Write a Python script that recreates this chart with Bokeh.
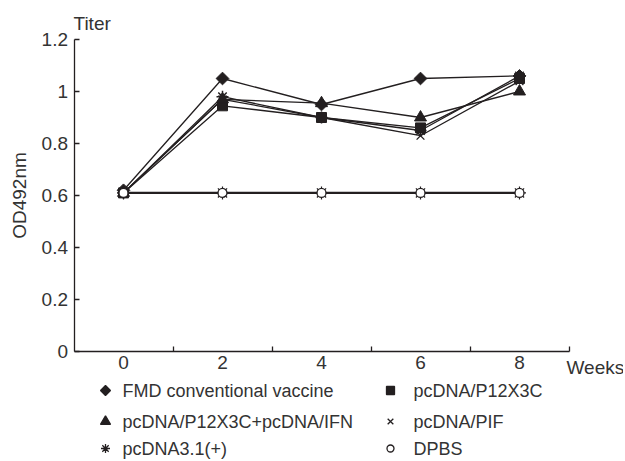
import math
from bokeh.plotting import figure
from bokeh.models import FixedTicker, Range1d
from bokeh.core.properties import value
from bokeh.embed import file_html
from bokeh.resources import INLINE

weeks = [0, 2, 4, 6, 8]
fmd = [0.62, 1.05, 0.95, 1.05, 1.06]
p12x3c = [0.61, 0.945, 0.90, 0.86, 1.05]
p12x3c_ifn = [0.61, 0.97, 0.955, 0.90, 1.00]
pif = [0.61, 0.97, 0.90, 0.83, 1.04]
pcdna31 = [0.61, 0.98, 0.90, 0.85, 1.06]
dpbs = [0.61, 0.61, 0.61, 0.61, 0.61]

x_tick_labels = ["0", "2", "4", "6", "8"]
x_minor = [1, 3, 5, 7, 9]
y_ticks = [0, 0.2, 0.4, 0.6, 0.8, 1.0, 1.2]
y_tick_labels = ["0", "0.2", "0.4", "0.6", "0.8", "1", "1.2"]

series_names = ["FMD conventional vaccine", "pcDNA/P12X3C",
                "pcDNA/P12X3C+pcDNA/IFN", "pcDNA/PIF",
                "pcDNA3.1(+)", "DPBS"]

INK = "#231f20"
TXT = "#333333"
FONT = "Liberation Sans"
DIAMOND_ANGLE = math.pi / 4

# layout geometry (page pixels)
W, H = 623, 459
OX, OY = 0, 0          # canvas offset on page
X0_PX, X_STEP = 123.0, 49.5   # page x of week 0, px per week
Y0_PX, Y_STEP = 351.0, 260.0  # page y of OD 0, px per OD unit


def px2x(px):
    return (px - X0_PX) / X_STEP


def py2y(py):
    return (Y0_PX - py) / Y_STEP


p = figure(width=W, height=H, output_backend="svg", toolbar_location=None,
           x_range=Range1d(px2x(OX), px2x(OX + W)),
           y_range=Range1d(py2y(OY + H), py2y(OY)),
           min_border=0)
p.outline_line_color = None
p.xgrid.visible = False
p.ygrid.visible = False

xa = p.xaxis[0]
xa.fixed_location = 0
xa.bounds = (-1, 9)
xa.ticker = FixedTicker(ticks=weeks, minor_ticks=x_minor)
xa.major_label_overrides = {w: l for w, l in zip(weeks, x_tick_labels)}
xa.major_tick_in = 0
xa.major_tick_out = 0
xa.minor_tick_in = 5
xa.minor_tick_out = 0
xa.minor_tick_line_color = INK
xa.minor_tick_line_width = 1.3
xa.axis_line_color = INK
xa.axis_line_width = 1.3
xa.major_label_standoff = 4
xa.major_label_text_font = FONT
xa.major_label_text_font_size = "19px"
xa.major_label_text_color = TXT

ya = p.yaxis[0]
ya.fixed_location = -1
ya.bounds = (0, 1.2)
ya.ticker = FixedTicker(ticks=y_ticks, minor_ticks=[])
ya.major_label_overrides = {t: l for t, l in zip(y_ticks, y_tick_labels)}
ya.major_tick_in = 5
ya.major_tick_out = 0
ya.major_tick_line_color = INK
ya.major_tick_line_width = 1.3
ya.minor_tick_in = 0
ya.minor_tick_out = 0
ya.axis_line_color = INK
ya.axis_line_width = 1.3
ya.major_label_standoff = 6
ya.major_label_text_font = FONT
ya.major_label_text_font_size = "19px"
ya.major_label_text_color = TXT
ya.axis_label = "OD492nm"
ya.axis_label_text_font = FONT
ya.axis_label_text_font_size = "19px"
ya.axis_label_text_font_style = "normal"
ya.axis_label_text_color = TXT
ya.axis_label_standoff = 9

# lines
p.line(weeks, dpbs, line_color=INK, line_width=2.2)
for ys in [pif, pcdna31, p12x3c, p12x3c_ifn, fmd]:
    p.line(weeks, ys, line_color=INK, line_width=1.3)

# markers
p.scatter(weeks, pif, marker="x", size=11, line_color=INK, line_width=1.3)
p.scatter(weeks, pcdna31, marker="asterisk", size=12, line_color=INK, line_width=1.5)
p.scatter(weeks, p12x3c, marker="square", size=10, fill_color=INK, line_color=INK)
p.scatter(weeks, p12x3c_ifn, marker="triangle", size=12, fill_color=INK, line_color=INK)
p.scatter(weeks, fmd, marker="square", angle=DIAMOND_ANGLE, size=9,
          fill_color=INK, line_color=INK)
p.scatter(weeks, dpbs, marker="asterisk", size=13, line_color=INK, line_width=1.2)
p.scatter(weeks, dpbs, marker="circle", size=9, fill_color="white",
          line_color=INK, line_width=1.3)

# axis titles
p.text(x=[px2x(73)], y=[py2y(23)], text=["Titer"], text_font=value(FONT),
       text_font_size="19px", text_color=TXT, text_baseline="alphabetic",
       text_align="left")
p.text(x=[px2x(566)], y=[py2y(367)], text=["Weeks"], text_font=value(FONT),
       text_font_size="19px", text_color=TXT, text_baseline="alphabetic",
       text_align="left")

# legend (page pixel positions)
marker_px = [105, 390, 105, 390, 105, 390]
text_px = [122, 413, 122, 413, 122, 413]
row_px = [390, 390, 421, 421, 448, 448]
markers = ["square", "square", "triangle", "x", "asterisk", "circle"]
angles = [DIAMOND_ANGLE, 0, 0, 0, 0, 0]
sizes = [7, 8, 10, 8, 9, 7]
fills = [INK, INK, INK, None, None, "white"]

for mx, my, mk, an, sz, fc in zip(marker_px, row_px, markers, angles, sizes, fills):
    p.scatter([px2x(mx)], [py2y(my)], marker=mk, angle=an, size=sz,
              fill_color=fc, line_color=INK, line_width=1.3)
p.text(x=[px2x(v) for v in text_px], y=[py2y(v) for v in row_px],
       text=series_names, text_font=value(FONT), text_font_size="18px",
       text_color=TXT, text_baseline="middle", text_align="left")

open("out.html", "w").write(file_html(p, INLINE))
